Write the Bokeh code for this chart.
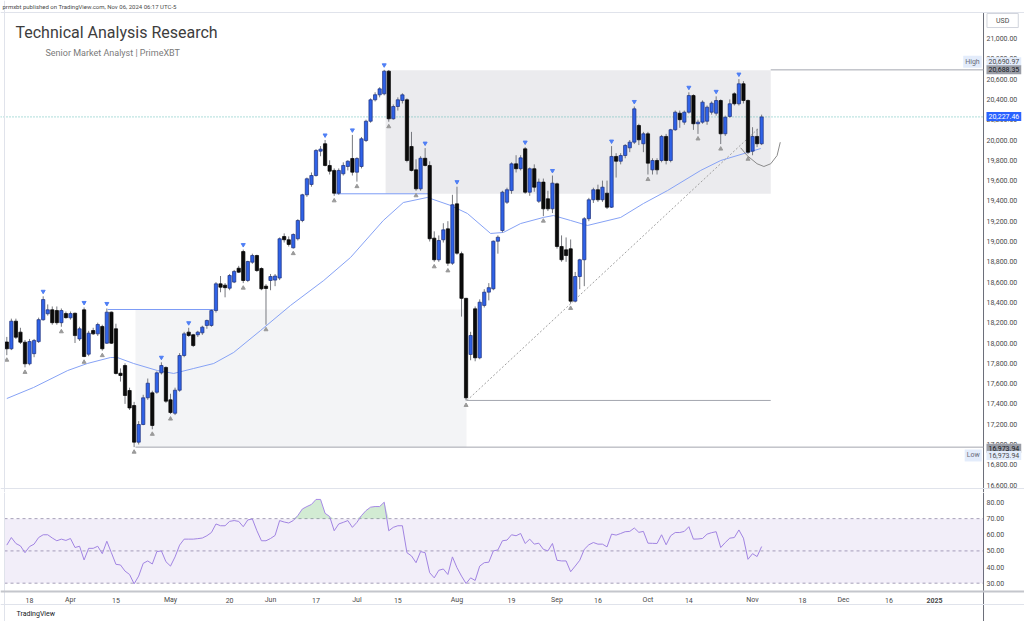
from bokeh.plotting import figure
from bokeh.models import Range1d, Span, BoxAnnotation, Label, ColumnDataSource
from bokeh.layouts import column
from bokeh.embed import file_html
from bokeh.resources import INLINE
from bokeh.core.properties import value

# ---------------- data (daily bars, Mar 11 - Nov 05 2024) ----------------
opens = [18010,17943,18215,18107,18008,17795,17895,18014,18229,18288,
         18327,18320,18200,18290,18248,18293,18040,18327,17890,18123,
         18090,18163,17998,18304,18140,17702,17778,17532,17384,17023,
         17197,17460,17509,17515,17706,17759,17440,17308,17535,17877,
         18107,18081,18081,18100,18173,18173,18320,18583,18570,18540,
         18600,18737,18901,18616,18796,18862,18734,18560,18616,18620,
         18640,19049,19017,18938,19027,19207,19460,19562,19650,19890,
         19963,19749,19700,19476,19667,19739,19818,19683,19739,19995,
         20185,20396,20445,20455,20678,20209,20330,20389,20396,19936,
         19706,19519,19820,19749,19033,18820,19017,19125,18786,19371,
         18880,18440,17887,18337,17854,18370,18501,18534,19003,19108,
         19387,19502,19765,19717,19913,19486,19717,19397,19585,19421,
         19322,19568,18951,18918,18928,18412,18655,18820,19224,19411,
         19510,19411,19476,19338,19838,19791,19847,19923,19979,20143,
         19963,20061,19706,19798,19798,20035,19798,20101,20264,20176,
         20274,20438,20160,20176,20185,20274,20264,20389,20061,20232,
         20455,20357,20554,20389,19890,20035,19963]
highs = [18060,18240,18240,18150,18030,18040,18040,18250,18460,18380,
         18360,18360,18340,18310,18310,18300,18160,18350,18120,18150,
         18200,18180,18340,18310,18190,17750,17800,17560,17420,17230,
         17490,17650,17530,17720,17810,17770,17500,17560,17900,18110,
         18150,18090,18120,18170,18230,18330,18600,18660,18590,18680,
         18720,18760,18920,18810,18880,18870,18745,18580,18680,18680,
         19040,19080,19050,19080,19220,19470,19630,19680,19910,19940,
         20000,19800,19720,19720,19780,19800,20050,19830,20030,20200,
         20410,20470,20520,20690.97,20690,20350,20420,20460,20410,20080,
         19810,19840,19920,19790,19100,19060,19180,19200,19460,19540,
         18900,18445,18110,18360,18430,18530,18590,19010,19060,19500,
         19530,19780,19850,19850,19930,19730,19760,19620,19620,19500,
         19650,19580,19060,19040,19020,18700,18830,19240,19430,19530,
         19560,19600,19600,19940,19870,19870,19960,20000,20330,20160,
         20080,20080,19820,19820,20050,20060,20110,20290,20290,20290,
         20470,20450,20200,20390,20340,20380,20430,20400,20240,20400,
         20470,20600,20580,20400,20126,20110,20250]
lows = [17880,17930,18040,17990,17760,17780,17860,18000,18220,18270,
        18180,18180,18160,18240,18230,18000,18020,17860,17870,18080,
        18070,17925,17990,17990,17690,17620,17400,17340,16973.94,17000,
        17190,17440,17150,17500,17690,17410,17300,17290,17520,17860,
        18060,17960,18060,18080,18140,18160,18300,18500,18450,18520,
        18590,18690,18590,18600,18780,18700,18520,18180,18520,18560,
        18620,18990,18950,18930,19010,19190,19440,19540,19640,19840,
        19740,19660,19450,19460,19650,19700,19650,19590,19720,19980,
        20170,20380,20420,20440,20180,20200,20290,20360,19780,19690,
        19500,19500,19740,19000,18800,18800,18990,18760,18770,18870,
        18260,17434,17830,17820,17840,18350,18420,18520,18880,19090,
        19370,19470,19680,19700,19470,19450,19490,19380,19250,19300,
        19280,18930,18800,18800,18390,18400,18530,18560,19200,19380,
        19390,19390,19320,19330,19630,19760,19820,19880,19960,19950,
        19880,19660,19660,19660,19780,19760,19780,20090,20120,20150,
        20260,20100,20060,20160,20150,20250,20240,19960,20040,20220,
        20340,20340,20360,19860,19850,19930,19950]
closes = [17943,18215,18057,18008,17795,18015,18025,18230,18428,18327,
          18200,18200,18320,18250,18290,18073,18140,17867,18097,18090,
          18182,17943,18304,17998,17700,17680,17483,17360,17023,17197,
          17460,17604,17187,17706,17778,17427,17315,17535,17877,18090,
          18074,17975,18107,18156,18222,18320,18583,18550,18545,18665,
          18705,18698,18616,18803,18862,18714,18534,18537,18655,18660,
          19027,19017,18971,19069,19207,19460,19618,19650,19897,19910,
          19749,19693,19476,19700,19749,19791,19683,19818,20012,20185,
          20396,20446,20504,20678,20209,20330,20396,20445,19798,19700,
          19519,19820,19749,19027,18820,19010,19115,18786,19362,18885,
          18440,17460,18074,17854,18402,18501,18545,19003,19042,19486,
          19510,19765,19717,19824,19486,19717,19535,19585,19322,19322,
          19575,18951,18820,18862,18412,18655,18820,19224,19411,19510,
          19411,19535,19338,19838,19791,19847,19946,19979,20307,20002,
          20061,19772,19798,19706,20035,19798,20101,20274,20200,20274,
          20438,20160,20176,20373,20323,20363,20389,20061,20224,20357,
          20357,20554,20389,19880,20035,19963,20227.46]

rsi = [53.6,58.3,54.6,53.1,48.9,52.7,54.2,58.3,60.0,60.0,
       58.0,56.3,57.3,56.5,57.7,52.1,52.9,44.4,51.6,51.6,
       52.9,48.3,56.0,48.9,41.7,41.3,37.5,35.4,29.6,34.4,
       42.3,43.8,41.9,49.6,50.0,43.3,40.6,46.3,53.6,57.3,
       57.3,57.3,57.6,58.0,59.4,61.4,66.7,65.6,65.6,68.3,
       68.8,68.3,65.0,69.2,69.8,62.5,56.3,56.3,57.7,59.6,
       68.8,67.9,67.3,68.8,71.9,76.0,77.5,78.8,81.9,81.9,
       73.3,71.3,62.5,66.7,67.7,68.8,64.6,67.7,71.9,75.0,
       77.1,77.5,77.5,80.2,62.5,64.6,65.6,65.6,48.9,46.9,
       42.7,49.6,48.9,36.5,33.3,38.0,38.8,35.4,46.3,39.6,
       34.4,29.8,33.3,31.7,40.6,42.7,43.0,50.0,50.6,56.3,
       56.7,60.0,59.4,60.8,54.6,57.3,54.2,54.8,51.0,50.0,
       54.6,44.2,43.8,43.8,37.1,40.6,44.2,51.0,53.8,55.2,
       54.2,54.2,52.5,60.4,59.8,60.8,61.9,62.1,64.2,61.5,
       62.1,54.8,54.7,54.6,60.0,53.8,59.4,61.4,61.4,62.1,
       65.0,57.3,57.4,57.7,60.4,61.3,61.9,52.1,55.2,57.9,
       58.3,63.0,57.9,44.8,48.3,46.5,52.7]

# moving average (bar index, value)
ma_bars = [0, 5.9, 13.4, 17.7, 22.8, 24.3, 27.9, 33.1, 36.7, 41.1, 45.5, 49.9, 55.8, 62.4,
           69.7, 75.6, 82.8, 87.2, 92.5, 97.6, 101.3, 106.4, 109.2, 113, 118, 120.2, 124,
           127.7, 135, 140, 145.3, 152.6, 157, 162.9, 165.8]
ma_vals = [17453, 17562, 17729, 17798, 17857, 17857, 17798, 17729, 17700, 17749, 17798, 17907,
           18123, 18370, 18616, 18843, 19207, 19384, 19434, 19355, 19276, 19079, 19089, 19177,
           19237, 19256, 19207, 19158, 19237, 19374, 19502, 19700, 19798, 19877, 19916]

pivot_high_bars = [8, 17, 22, 34, 40, 52, 70, 76, 83, 92, 99, 114, 120, 133, 138, 150, 156, 161]
pivot_low_bars = [0, 4, 12, 17, 21, 28, 32, 36, 52, 57, 63, 72, 77, 84, 90, 94, 97, 101, 118,
                  124, 141, 152, 157, 163]

tick_bars = [5, 14, 24, 36, 49, 58, 68, 77, 86, 99, 111, 121, 130, 141, 150, 164, 175, 184, 194, 204]
tick_labels = ["18", "Apr", "15", "May", "20", "Jun", "17", "Jul", "15", "Aug", "19", "Sep",
               "16", "Oct", "14", "Nov", "18", "Dec", "16", "2025"]
price_ticks = list(range(16600, 21001, 200))
rsi_ticks = [30, 40, 50, 60, 70, 80]

# drawings
zone_left = [83.3, 28.3]
zone_right = [168.0, 101.1]
zone_top = [20688, 18330]
zone_bottom = [19470, 16974]
level_lines = [(72.3, 93.2, 19470), (22.2, 45.5, 18330)]      # blue horizontal rays
aug_low_line = (101.1, 168.0, 17434)
trend_x = [101.2, 165.2]
trend_y = [17434, 20110]
arc_x = [161.4, 162.8, 165.0, 166.5, 168.0, 169.4, 170.1]
arc_y = [19923, 19847, 19766, 19739, 19766, 19847, 19978]

period_high = max(highs)
period_low = min(lows)
last_price = closes[-1]

# ---------------- layout constants ----------------
X0 = -1.386            # left edge of canvas (bar units)
XE = 223.81            # right edge of canvas
XA = 214.8             # price-axis border
XL = 215.45            # price-axis label start
FONT = "Roboto"
AX_COLOR = "#4a4a4a"
GRID_LINE = "#e0e3eb"

# ---------------- price pane ----------------
p1 = figure(width=1024, height=492, x_range=Range1d(X0, XE), y_range=Range1d(16527.1, 21374.4),
            output_backend="svg", toolbar_location=None, x_axis_location=None,
            y_axis_location=None, min_border=0)
p1.grid.visible = False
p1.outline_line_color = None

# zones
p1.quad(left=zone_left, right=zone_right, top=zone_top, bottom=zone_bottom,
        fill_color=["#ebebee", "#f3f4f6"], line_color=None)

# current price line
p1.segment(x0=[X0], y0=[last_price], x1=[XA], y1=[last_price], line_color="#4db6ac",
           line_dash="1 2", line_width=1, line_alpha=0.9)
# frame lines
p1.add_layout(Span(location=21256, dimension="width", line_color=GRID_LINE, line_width=1))
p1.add_layout(Span(location=16566.6, dimension="width", line_color=GRID_LINE, line_width=1))
p1.add_layout(Span(location=-0.506, dimension="height", line_color=GRID_LINE, line_width=1))
p1.segment(x0=[XA], y0=[16527.1], x1=[XA], y1=[21256], line_color="#6a6d78", line_width=1)

# high / low lines
p1.segment(x0=[168.0], y0=[period_high], x1=[XA], y1=[period_high], line_color="#a3a6af", line_width=1)
p1.segment(x0=[28.3], y0=[period_low], x1=[XA], y1=[period_low], line_color="#a3a6af", line_width=1)
p1.segment(x0=[aug_low_line[0]], y0=[aug_low_line[2]], x1=[aug_low_line[1]], y1=[aug_low_line[2]],
           line_color="#a3a6af", line_width=1)
for a, b, lv in level_lines:
    p1.segment(x0=[a], y0=[lv], x1=[b], y1=[lv], line_color="#7d9cf6", line_width=1)

# moving average
p1.line(ma_bars, ma_vals, line_color="#86a2f5", line_width=1)

# trend line and arc
p1.line(trend_x, trend_y, line_color="#a0a0a0", line_width=1, line_dash="2 2")
p1.line(arc_x, arc_y, line_color="#8a8a8a", line_width=1)

# candles
idx = list(range(len(closes)))
is_up = [c >= o for o, c in zip(opens, closes)]
src = ColumnDataSource(dict(
    x=idx, h=highs, l=lows,
    top=[max(o, c) for o, c in zip(opens, closes)],
    bottom=[min(o, c) for o, c in zip(opens, closes)],
    fill=["#2f62e8" if u else "#0b0b0b" for u in is_up],
    line=["#1c2f7a" if u else "#000000" for u in is_up],
))
p1.segment(x0="x", y0="l", x1="x", y1="h", line_color="#77797f", line_width=1, source=src)
p1.vbar(x="x", width=0.72, top="top", bottom="bottom", fill_color="fill", line_color="line",
        line_width=0.7, source=src)

# pivot markers
p1.scatter(pivot_high_bars, [highs[i] + 48 for i in pivot_high_bars], marker="inverted_triangle",
           size=4, fill_color="#4f7ff5", line_color="#4f7ff5")
p1.scatter(pivot_low_bars, [lows[i] - 48 for i in pivot_low_bars], marker="triangle",
           size=4, fill_color="#9a9a9a", line_color="#9a9a9a")

# price scale labels
p1.text(x=[XL] * len(price_ticks), y=price_ticks, text=["{:,.2f}".format(v) for v in price_ticks],
        text_font=value(FONT), text_font_size="7px", text_color=AX_COLOR,
        text_align="left", text_baseline="middle")

# header texts
p1.add_layout(Label(x=-0.95, y=21315, text="prmxbt published on TradingView.com, Nov 06, 2024 06:17 UTC-5",
                    text_font=FONT, text_font_size="6px", text_color="#4a4a4a",
                    text_baseline="middle"))
p1.add_layout(Label(x=1.91, y=21059, text="Technical Analysis Research", text_font=FONT,
                    text_font_size="16px", text_color="#3d3d3d", text_baseline="middle"))
p1.add_layout(Label(x=8.51, y=20862, text="Senior Market Analyst | PrimeXBT", text_font=FONT,
                    text_font_size="9px", text_color="#7a7a7a", text_baseline="middle"))


def tag(fig, x, y, text, bg, fg, align="left", border=None, pad=2):
    fig.add_layout(Label(x=x, y=y, text=text, text_font=FONT, text_font_size="7px",
                         text_color=fg, text_align=align, text_baseline="middle",
                         background_fill_color=bg, border_line_color=border, padding=pad))


tag(p1, 219.0, 21177, "USD", "white", "#4a4a4a", align="center", border="#d1d4dc", pad=(9, 3))
tag(p1, 214.4, 20770, "High", "#e3ecfb", "#6a6d78", align="right")
tag(p1, XL, 20770, "{:,.2f}".format(period_high), "#e3ecfb", "#4a4a4a")
tag(p1, XL, 20692, "20,688.35", "#9a9da6", "#131722")
tag(p1, XL, 20232, "{:,.2f}".format(last_price), "#2962ff", "white")
tag(p1, XL, 16964, "{:,.2f}".format(period_low), "#9a9da6", "#131722")
tag(p1, 214.4, 16892, "Low", "#e3ecfb", "#6a6d78", align="right")
tag(p1, XL, 16892, "{:,.2f}".format(period_low), "#e3ecfb", "#4a4a4a")

# ---------------- RSI pane + time scale ----------------
p2 = figure(width=1024, height=129, x_range=p1.x_range, y_range=Range1d(6.27, 86.196),
            output_backend="svg", toolbar_location=None, x_axis_location=None,
            y_axis_location=None, min_border=0)
p2.grid.visible = False
p2.outline_line_color = None

p2.add_layout(BoxAnnotation(left=-0.5, right=XA, bottom=30, top=70, fill_color="#7e57c2",
                            fill_alpha=0.1, line_color=None))
for lv in (70, 50, 30):
    p2.segment(x0=[-0.5], y0=[lv], x1=[XA], y1=[lv], line_color="#a9a4b8", line_dash="3 3",
               line_width=1)
p2.add_layout(Span(location=-0.506, dimension="height", line_color=GRID_LINE, line_width=1))
p2.segment(x0=[XA], y0=[6.27], x1=[XA], y1=[86.196], line_color="#6a6d78", line_width=1)

p2.varea(x=idx, y1=[70] * len(rsi), y2=[max(v, 70) for v in rsi], fill_color="#4caf50",
         fill_alpha=0.25)
p2.line(idx, rsi, line_color="#a68ae6", line_width=1)

# RSI scale labels
p2.text(x=[XL] * len(rsi_ticks), y=rsi_ticks, text=["{:.2f}".format(v) for v in rsi_ticks],
        text_font=value(FONT), text_font_size="7px", text_color=AX_COLOR,
        text_align="left", text_baseline="middle")

# time scale
p2.add_layout(Span(location=24.86, dimension="width", line_color="#c4c6cc", line_width=2))
p2.add_layout(Span(location=16.8, dimension="width", line_color=GRID_LINE, line_width=1))
tsrc = ColumnDataSource(dict(x=tick_bars, y=[19.3] * len(tick_bars), t=tick_labels,
                             s=["bold" if t == "2025" else "normal" for t in tick_labels]))
p2.text(x="x", y="y", text="t", text_font_style="s", source=tsrc, text_font=value(FONT),
        text_font_size="7px", text_color=AX_COLOR, text_align="center", text_baseline="middle")

p2.add_layout(Label(x=2.13, y=11.2, text="TradingView", text_font=FONT, text_font_size="7px",
                    text_color="#131722", text_baseline="middle"))

layout = column(p1, p2)
open("out.html", "w").write(file_html(layout, INLINE))
